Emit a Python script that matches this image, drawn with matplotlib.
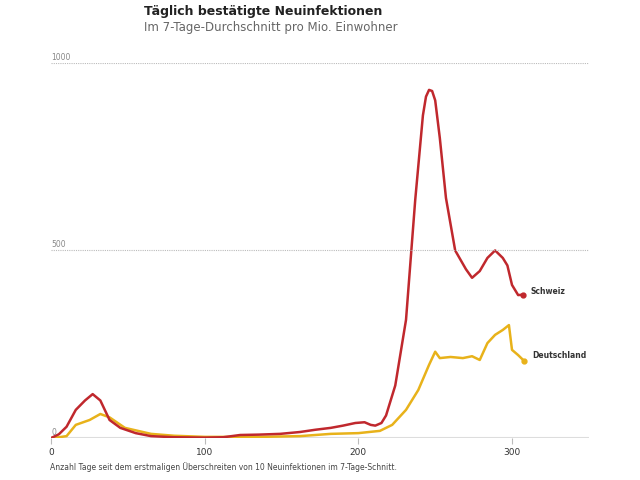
import matplotlib.pyplot as plt
import numpy as np

# Schweiz: days and values per million (7-day average)
ch_days = [0, 5, 10, 16, 22, 27, 32, 38, 45, 55, 65, 80, 100, 112, 123, 135, 149, 162, 172,
           182, 190, 198, 204, 208, 211, 215, 218, 224, 231, 237, 242, 244, 246, 248, 250,
           253, 257, 263, 270, 274, 279, 284, 289, 294, 297, 300, 304, 307]
ch_vals = [0, 10, 30, 75, 100, 117, 100, 48, 27, 13, 5, 2, 1, 2, 8, 9, 11, 16, 22,
           27, 33, 40, 42, 35, 33, 40, 60, 140, 315, 635, 860, 910, 928, 925, 900,
           800, 640, 500, 450, 427, 445, 480, 500, 480, 460, 408, 381, 382]

# Deutschland
de_days = [0, 5, 10, 16, 25, 32, 38, 48, 65, 80, 100, 136, 162, 182, 200, 214, 222, 231,
           239, 246, 250, 253, 260, 268, 274, 279, 284, 289, 294, 298, 300, 304, 308]
de_vals = [0, 2, 5, 35, 48, 64, 55, 27, 11, 6, 3, 3, 5, 11, 13, 19, 35, 75,
           128, 195, 230, 213, 216, 213, 218, 208, 253, 275, 288, 301, 235, 221, 205]

red = '#c0282d'
yellow = '#e8b21a'

fig = plt.figure(figsize=(6.4, 4.8), dpi=100)
ax = fig.add_axes([0.08, 0.0875, 0.84, 0.7815])

ax.plot(de_days, de_vals, color=yellow, lw=1.8, solid_joinstyle='round')
ax.plot(ch_days, ch_vals, color=red, lw=1.8, solid_joinstyle='round')
ax.plot(ch_days[-1], ch_vals[-1], 'o', color=red, ms=3.5)
ax.plot(de_days[-1], de_vals[-1], 'o', color=yellow, ms=3.5)
ax.text(ch_days[-1] + 5, ch_vals[-1] + 8, 'Schweiz', fontsize=5.5, fontweight='bold',
        color='#333333', va='center')
ax.text(de_days[-1] + 5, de_vals[-1] + 15, 'Deutschland', fontsize=5.5, fontweight='bold',
        color='#333333', va='center')

ax.set_xlim(0, 350)
ax.set_ylim(0, 1000)
for yv in [500, 1000]:
    ax.axhline(yv, color='#bbbbbb', lw=0.8, ls=(0, (1, 1)))
    ax.text(0, yv + 8, str(yv), fontsize=5.5, color='#888888')
ax.text(0, 8, '0', fontsize=5.5, color='#888888')
ax.axhline(0, color='#dddddd', lw=1.5, zorder=0)

ax.set_xticks([0, 100, 200, 300])
ax.tick_params(axis='x', length=4, color='#bbbbbb', labelsize=6.5, labelcolor='#333333')
ax.set_yticks([])
for s in ax.spines.values():
    s.set_visible(False)

fig.text(0.225, 0.975, 'Täglich bestätigte Neuinfektionen', fontsize=9, fontweight='semibold',
         color='#222222', va='center')
fig.text(0.225, 0.943, 'Im 7-Tage-Durchschnitt pro Mio. Einwohner', fontsize=8.5,
         color='#666666', va='center')
fig.text(0.078, 0.02, 'Anzahl Tage seit dem erstmaligen Überschreiten von 10 Neuinfektionen im 7-Tage-Schnitt.',
         fontsize=5.5, color='#444444')

fig.savefig('out.png', dpi=100)
